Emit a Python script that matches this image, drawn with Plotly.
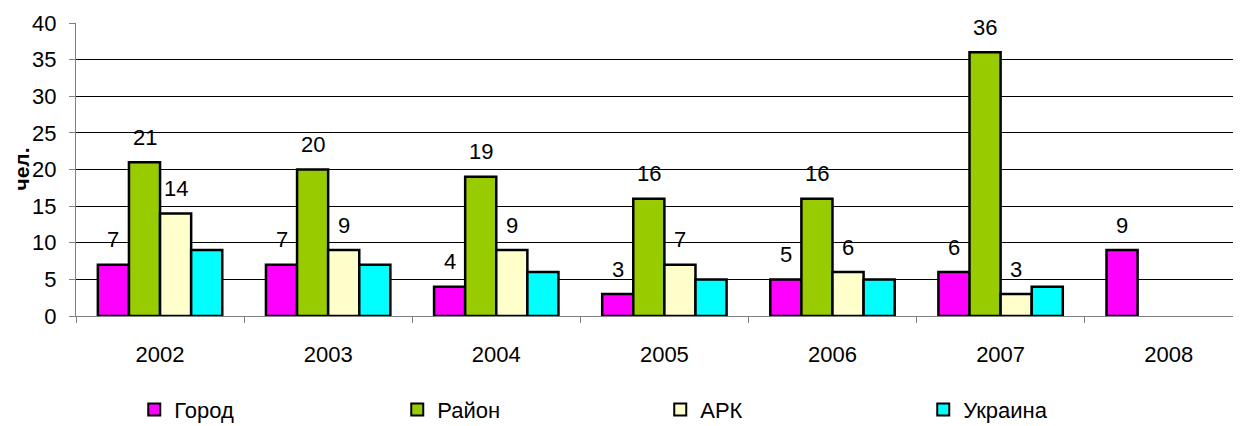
import plotly.graph_objects as go

years = ["2002", "2003", "2004", "2005", "2006", "2007", "2008"]
gorod = [7, 7, 4, 3, 5, 6, 9]
rayon = [21, 20, 19, 16, 16, 36, None]
ark = [14, 9, 9, 7, 6, 3, None]
ukraina = [9, 7, 6, 5, 5, 4, None]

series = [
    ("Город", gorod, "#FF00FF", True),
    ("Район", rayon, "#99CC00", True),
    ("АРК", ark, "#FFFFCC", True),
    ("Украина", ukraina, "#00FFFF", False),
]

FONT = "Liberation Sans, Arial, sans-serif"
FS = 22
bargap = 0.26
n = len(series)
bw = (1 - bargap) / n

fig = go.Figure()
annotations = []
for i, (name, vals, color, labeled) in enumerate(series):
    fig.add_trace(go.Bar(
        x=years, y=vals, name=name,
        marker=dict(color=color, line=dict(color="black", width=2.5)),
    ))
    if labeled:
        for k, v in enumerate(vals):
            if v is None:
                continue
            annotations.append(dict(
                x=k + (i - (n - 1) / 2) * bw, y=v, xref="x", yref="y",
                text=str(v), showarrow=False, yanchor="middle", yshift=25,
                font=dict(family=FONT, size=FS, color="black"),
            ))

# y-axis title
annotations.append(dict(
    x=-0.0472, y=0.5, xref="paper", yref="paper", text="<b>чел.</b>",
    textangle=-90, showarrow=False, xanchor="center", yanchor="middle",
    font=dict(family=FONT, size=21, color="black"),
))

fig.update_layout(
    width=1233, height=418,
    margin=dict(l=68, r=0, t=15, b=110, autoexpand=False),
    paper_bgcolor="white", plot_bgcolor="white",
    barmode="group", bargap=bargap, bargroupgap=0,
    font=dict(family=FONT, size=FS, color="black"),
    annotations=annotations,
    showlegend=True,
    legend=dict(
        orientation="h", x=0.05, y=-0.32, xanchor="left", yanchor="middle",
        entrywidth=218, entrywidthmode="pixels",
        font=dict(family=FONT, size=FS),
        itemsizing="constant", traceorder="normal",
    ),
)
fig.update_xaxes(
    type="category", range=[-0.5, 6.43], automargin=False,
    showline=True, linecolor="#808080", linewidth=1,
    ticks="outside", tickson="boundaries", ticklen=6, tickcolor="#808080",
    ticklabelstandoff=19, showgrid=False,
    tickfont=dict(family=FONT, size=FS),
)
fig.update_yaxes(
    range=[0, 40], dtick=5, automargin=False,
    showline=True, linecolor="#808080", linewidth=1,
    ticks="outside", ticklen=6, tickcolor="#808080",
    ticklabelstandoff=8,
    showgrid=True, gridcolor="#000000", gridwidth=1,
    zeroline=False,
    tickfont=dict(family=FONT, size=FS),
)

fig.write_html("out.html")
